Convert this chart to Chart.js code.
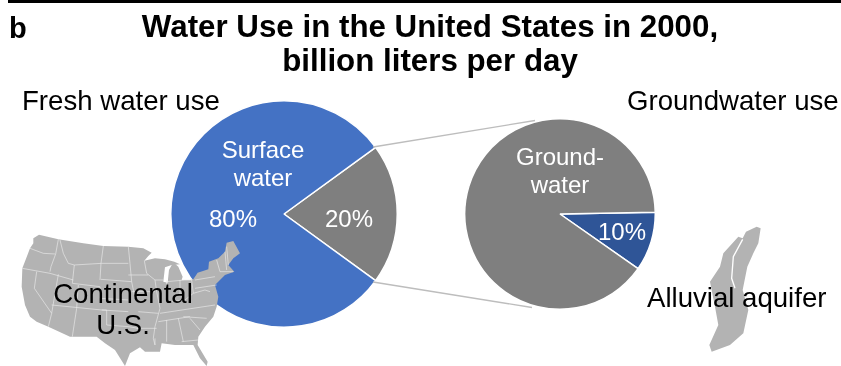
<!DOCTYPE html>
<html>
<head>
<meta charset="utf-8">
<title>Water Use in the United States in 2000</title>
<script src="https://cdn.jsdelivr.net/npm/chart.js@4"></script>
<style>
  html, body { margin: 0; padding: 0; background: #fff; }
  #page { position: relative; width: 841px; height: 366px; overflow: hidden; }
  #page canvas { position: absolute; }
  #freshPie { left: 170px; top: 100px; }
  #groundPie { left: 464px; top: 118px; }
  #overlay { position: absolute; left: 0; top: 0; }
  text { font-family: "Liberation Sans", Arial, sans-serif; }
  .head { font-weight: bold; font-size: 31.3px; fill: #000; text-anchor: middle; }
  .side { font-size: 27.6px; fill: #000; }
  .inner { font-size: 24px; fill: #fff; text-anchor: middle; }
  .map { fill: #b3b3b3; }
  .border { fill: none; stroke: #eee; stroke-width: 1.8; }
</style>
</head>
<body>
<div id="page">
  <canvas id="freshPie" width="228" height="228"></canvas>
  <canvas id="groundPie" width="192" height="192"></canvas>
  <svg id="overlay" width="841" height="366" xmlns="http://www.w3.org/2000/svg">
    <rect x="8" y="0" width="833" height="3" fill="#000"></rect>
    <line x1="373" y1="147" x2="535" y2="120.5" stroke="#bdbdbd" stroke-width="1.3"></line>
    <line x1="373" y1="282" x2="532" y2="307.5" stroke="#bdbdbd" stroke-width="1.3"></line>

    <!-- continental U.S. outline with state borders -->
    <g transform="translate(15,230) scale(0.3333)">
      <path class="map" d="M55,25 L72,14 130,28 205,40 265,48 340,50 385,55 410,68 400,78 388,92 420,85 450,88 478,95 495,103 470,105 450,112 445,155 458,158 462,120 475,97 490,110 503,140 500,150 525,150 535,148 548,128 580,118 582,95 610,85 630,65 635,38 655,33 675,70 655,85 640,105 658,125 630,135 615,150 600,165 610,200 605,230 595,260 570,290 550,320 548,345 578,395 575,408 555,385 535,345 480,345 440,340 435,365 390,365 375,352 345,370 330,408 300,360 270,340 245,320 165,320 100,290 65,275 45,260 30,225 20,170 22,115 45,55 55,40 Z"></path>
      <path class="border" d="M45,55 L85,70 120,72 M130,28 L122,72 108,110 105,125 M22,115 L105,130 175,150 M65,125 L58,175 110,250 100,290 M130,133 L110,250 M135,30 L145,70 160,100 178,105 260,100 340,100 M265,48 L258,100 255,150 M178,105 L172,160 255,170 M190,165 L185,235 172,320 M110,225 L260,240 340,245 M258,148 L350,155 M255,170 L255,205 340,210 M340,50 L345,100 350,155 360,205 M260,240 L275,240 275,285 340,290 370,295 M388,92 L395,130 420,150 425,185 M340,135 L400,135 M350,185 L420,185 M420,150 L445,150 M425,185 L435,235 420,290 415,325 420,345 M455,150 L455,210 M365,295 L425,295 M370,245 L430,250 M435,250 L600,225 M430,275 L525,260 M420,325 L420,345 M455,270 L455,335 M490,265 L505,335 M525,265 L555,300 M505,260 L575,265 M500,335 L550,330 M455,155 L510,150 530,150 535,190 M495,150 L495,195 M455,215 L510,210 535,190 570,180 585,185 M540,150 L600,140 M540,175 L605,165 M605,90 L615,125 M630,65 L635,120 M635,50 L640,105 M615,125 L655,125"></path>
    </g>

    <!-- alluvial aquifer -->
    <g transform="translate(640,210) scale(0.3333)">
      <path class="map" d="M350,50 L362,55 355,100 340,130 322,170 308,240 325,300 310,370 270,405 215,425 208,405 235,345 225,290 210,215 240,170 250,130 295,80 308,85 318,65 Z"></path>
      <path d="M308,88 L280,140 275,205 285,235" fill="none" stroke="#fff" stroke-width="4"></path>
    </g>

    <text x="9" y="38" font-size="29" font-weight="bold" fill="#000">b</text>
    <text id="titleTop" class="head" x="430" y="37"></text>
    <text id="titleBottom" class="head" x="430" y="71"></text>
    <text id="freshName" class="side" x="22" y="110"></text>
    <text id="groundName" class="side" x="627" y="110"></text>
    <text class="inner" x="263" y="158">Surface</text>
    <text class="inner" x="263" y="186">water</text>
    <text id="freshShare" class="inner" x="233" y="227"></text>
    <text id="groundShareLeft" class="inner" x="349" y="227"></text>
    <text class="inner" x="560" y="165">Ground-</text>
    <text class="inner" x="560" y="193">water</text>
    <text id="alluvialShare" class="inner" x="622" y="240"></text>
    <text class="side" x="123" y="303" text-anchor="middle">Continental</text>
    <text class="side" x="123" y="334" text-anchor="middle">U.S.</text>
    <text class="side" x="647" y="307">Alluvial aquifer</text>
  </svg>
</div>

<script>
const titleLines = ['Water Use in the United States in 2000,', 'billion liters per day'];

// shares of fresh water use, percent
const freshLabels = ['Groundwater', 'Surface water'];
const freshValues = [20, 80];
const freshColors = ['#7f7f7f', '#4472c4'];

// shares of groundwater use, percent
const groundLabels = ['Alluvial aquifer', 'Other groundwater'];
const groundValues = [10, 90];
const groundColors = ['#2f5597', '#7f7f7f'];

function makePie(id, labels, values, colors, rotation) {
    return new Chart(document.getElementById(id).getContext('2d'), {
        type: 'pie',
        data: {
            labels: labels,
            datasets: [{
                data: values,
                backgroundColor: colors,
                borderColor: '#fff',
                borderWidth: 1.5
            }]
        },
        options: {
            responsive: false,
            animation: false,
            rotation: rotation,
            layout: { padding: 0 },
            plugins: { legend: { display: false }, tooltip: { enabled: false } }
        }
    });
}

makePie('freshPie', freshLabels, freshValues, freshColors, 54);
makePie('groundPie', groundLabels, groundValues, groundColors, 89);

document.getElementById('titleTop').textContent = titleLines[0];
document.getElementById('titleBottom').textContent = titleLines[1];
document.getElementById('freshName').textContent = 'Fresh water use';
document.getElementById('groundName').textContent = 'Groundwater use';
document.getElementById('freshShare').textContent = freshValues[1] + '%';
document.getElementById('groundShareLeft').textContent = freshValues[0] + '%';
document.getElementById('alluvialShare').textContent = groundValues[0] + '%';
</script>
</body>
</html>
